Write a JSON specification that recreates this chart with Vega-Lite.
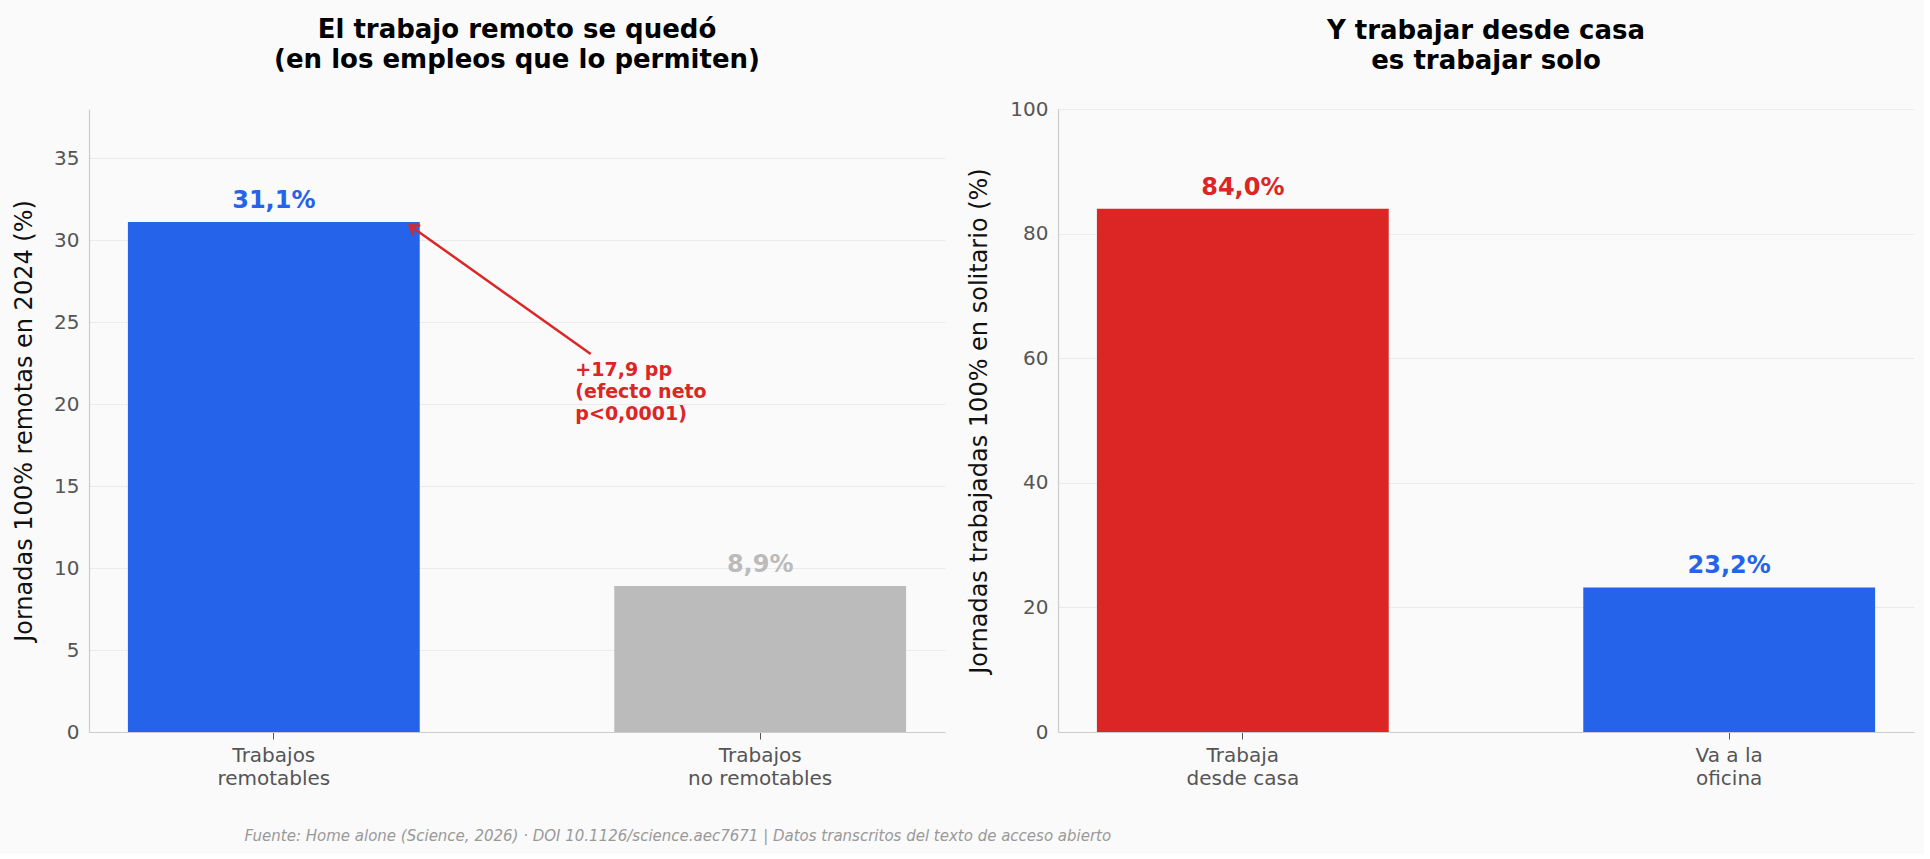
{
  "$schema": "https://vega.github.io/schema/vega-lite/v6.json",
  "background": "#fafafa",
  "padding": {"left": 12, "top": 17, "right": 10, "bottom": 10},
  "bounds": "flush",
  "spacing": 113,
  "config": {
    "font": "DejaVu Sans",
    "view": {"stroke": null},
    "axis": {
      "labelFont": "DejaVu Sans",
      "titleFont": "DejaVu Sans",
      "labelFontSize": 20,
      "labelColor": "#555555",
      "domainColor": "#cccccc",
      "domainWidth": 1.2,
      "gridColor": "#ebebeb",
      "gridWidth": 1,
      "titleFontSize": 24,
      "titleFontWeight": "normal",
      "titleColor": "#111111"
    }
  },
  "title": {
    "text": "Fuente: Home alone (Science, 2026) · DOI 10.1126/science.aec7671 | Datos transcritos del texto de acceso abierto",
    "orient": "bottom",
    "anchor": "start",
    "font": "DejaVu Sans",
    "fontSize": 15,
    "fontStyle": "italic",
    "fontWeight": "normal",
    "color": "#999999",
    "dx": 232,
    "offset": 41
  },
  "resolve": {"scale": {"color": "independent"}},
  "hconcat": [
    {
      "width": 856,
      "height": 623,
      "title": {
        "text": ["El trabajo remoto se quedó", "(en los empleos que lo permiten)"],
        "font": "DejaVu Sans",
        "fontSize": 26,
        "fontWeight": "bold",
        "color": "#000000",
        "lineHeight": 30,
        "offset": 36,
        "anchor": "middle"
      },
      "layer": [
        {
          "data": {"values": [
            {"grupo": "Trabajos\nremotables", "valor": 31.1, "etiqueta": "31,1%"},
            {"grupo": "Trabajos\nno remotables", "valor": 8.9, "etiqueta": "8,9%"}
          ]},
          "encoding": {
            "x": {"field": "grupo", "type": "nominal", "sort": null,
              "scale": {"paddingInner": 0.4, "paddingOuter": 0.08},
              "axis": {"title": null, "labelAngle": 0, "labelExpr": "split(datum.value, '\\n')", "labelLineHeight": 23, "labelPadding": 6, "ticks": true, "tickSize": 7, "tickColor": "#555555", "grid": false}},
            "y": {"field": "valor", "type": "quantitative",
              "scale": {"domain": [0, 38], "nice": false},
              "axis": {"title": "Jornadas 100% remotas en 2024 (%)", "values": [0, 5, 10, 15, 20, 25, 30, 35], "ticks": false, "labelPadding": 10, "titlePadding": 17, "grid": true}},
            "color": {"field": "grupo", "type": "nominal", "scale": {"domain": ["Trabajos\nremotables", "Trabajos\nno remotables"], "range": ["#2563eb", "#bbbbbb"]}, "legend": null}
          },
          "layer": [
            {"mark": {"type": "bar"}},
            {"mark": {"type": "text", "dy": -14, "baseline": "alphabetic", "fontSize": 24, "fontWeight": "bold"},
             "encoding": {"text": {"field": "etiqueta"}}}
          ]
        },
        {
          "data": {"values": [
            {"x1": 0.6515, "y1": 23.05, "x2": 0.2794, "y2": 30.9, "tx": 0.62, "ty": 21.7, "texto": ["+17,9 pp", "(efecto neto", "p<0,0001)"]}
          ]},
          "layer": [
            {"mark": {"type": "rule", "color": "#dc2626", "strokeWidth": 2.5},
             "encoding": {
               "x": {"field": "x1", "type": "quantitative", "scale": {"domain": [-0.38, 1.38], "nice": false, "zero": false}, "axis": null},
               "y": {"field": "y1", "type": "quantitative"},
               "x2": {"field": "x2"},
               "y2": {"field": "y2"}
             }},
            {"mark": {"type": "point", "shape": "M-0.7,1L0,0L0.7,1", "filled": false, "stroke": "#dc2626", "strokeWidth": 2.5, "size": 300, "opacity": 1, "angle": -54.5},
             "encoding": {
               "x": {"field": "x2", "type": "quantitative"},
               "y": {"field": "y2", "type": "quantitative"}
             }},
            {"mark": {"type": "text", "align": "left", "baseline": "alphabetic", "fontSize": 19, "fontWeight": "bold", "color": "#dc2626", "lineHeight": 22},
             "encoding": {
               "x": {"field": "tx", "type": "quantitative"},
               "y": {"field": "ty", "type": "quantitative"},
               "text": {"field": "texto"}
             }}
          ]
        }
      ],
      "resolve": {"scale": {"x": "independent"}, "axis": {"x": "independent"}}
    },
    {
      "width": 856,
      "height": 623,
      "title": {
        "text": ["Y trabajar desde casa", "es trabajar solo"],
        "font": "DejaVu Sans",
        "fontSize": 26,
        "fontWeight": "bold",
        "color": "#000000",
        "lineHeight": 30,
        "offset": 25,
        "anchor": "middle"
      },
      "data": {"values": [
        {"grupo": "Trabaja\ndesde casa", "valor": 84.0, "etiqueta": "84,0%"},
        {"grupo": "Va a la\noficina", "valor": 23.2, "etiqueta": "23,2%"}
      ]},
      "encoding": {
        "x": {"field": "grupo", "type": "nominal", "sort": null,
          "scale": {"paddingInner": 0.4, "paddingOuter": 0.08},
          "axis": {"title": null, "labelAngle": 0, "labelExpr": "split(datum.value, '\\n')", "labelLineHeight": 23, "labelPadding": 6, "ticks": true, "tickSize": 7, "tickColor": "#555555", "grid": false}},
        "y": {"field": "valor", "type": "quantitative",
          "scale": {"domain": [0, 100], "nice": false},
          "axis": {"title": "Jornadas trabajadas 100% en solitario (%)", "values": [0, 20, 40, 60, 80, 100], "ticks": false, "labelPadding": 10, "titlePadding": 18, "grid": true}},
        "color": {"field": "grupo", "type": "nominal", "scale": {"domain": ["Trabaja\ndesde casa", "Va a la\noficina"], "range": ["#dc2626", "#2563eb"]}, "legend": null}
      },
      "layer": [
        {"mark": {"type": "bar"}},
        {"mark": {"type": "text", "dy": -14, "baseline": "alphabetic", "fontSize": 24, "fontWeight": "bold"},
         "encoding": {"text": {"field": "etiqueta"}}}
      ]
    }
  ]
}
